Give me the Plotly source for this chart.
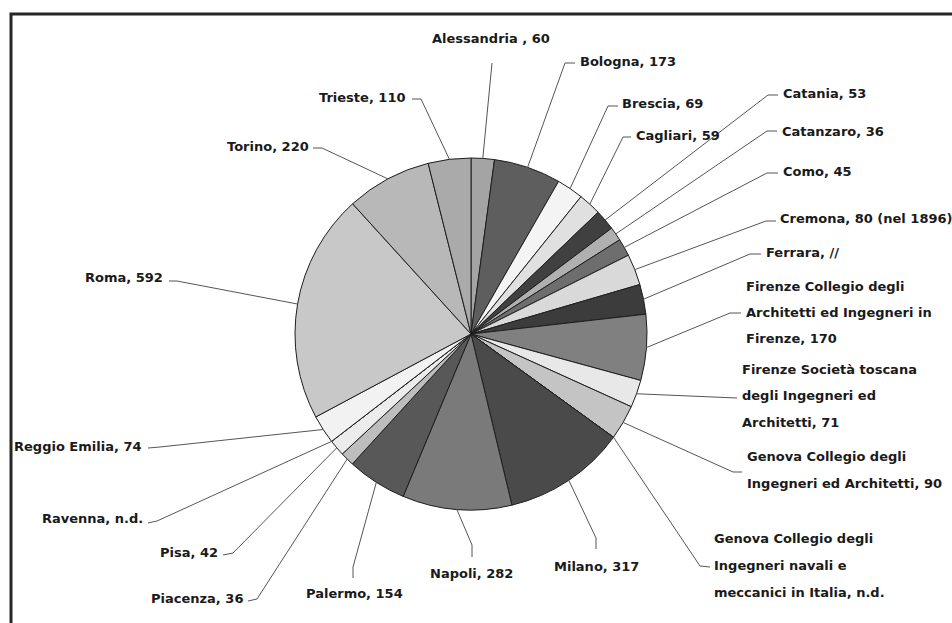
import math
import plotly.graph_objects as go

# ---------------- data ----------------
categories = [
    "Alessandria", "Bologna", "Brescia", "Cagliari", "Catania", "Catanzaro",
    "Como", "Cremona", "Ferrara", "Firenze Collegio", "Firenze Società",
    "Genova Collegio", "Genova navali", "Milano", "Napoli", "Palermo",
    "Piacenza", "Pisa", "Ravenna", "Reggio Emilia", "Roma", "Torino", "Trieste",
]
values = [60, 173, 69, 59, 53, 36, 45, 80, 77, 170, 71, 90, 0, 317, 282, 154,
          36, 42, 0, 74, 592, 220, 110]
label_texts = [
    ["Alessandria , 60"],
    ["Bologna, 173"],
    ["Brescia, 69"],
    ["Cagliari, 59"],
    ["Catania, 53"],
    ["Catanzaro, 36"],
    ["Como, 45"],
    ["Cremona, 80 (nel 1896)"],
    ["Ferrara, //"],
    ["Firenze Collegio degli", "Architetti ed Ingegneri in", "Firenze, 170"],
    ["Firenze Società toscana", "degli Ingegneri ed", "Architetti, 71"],
    ["Genova Collegio degli", "Ingegneri ed Architetti, 90"],
    ["Genova Collegio degli", "Ingegneri navali e", "meccanici in Italia, n.d."],
    ["Milano, 317"],
    ["Napoli, 282"],
    ["Palermo, 154"],
    ["Piacenza, 36"],
    ["Pisa, 42"],
    ["Ravenna, n.d."],
    ["Reggio Emilia, 74"],
    ["Roma, 592"],
    ["Torino, 220"],
    ["Trieste, 110"],
]

# ---------------- styles / layout ----------------
colors = ["#a4a4a4", "#5e5e5e", "#f4f4f4", "#e0e0e0", "#404040", "#b0b0b0",
          "#6e6e6e", "#d9d9d9", "#3c3c3c", "#808080", "#e8e8e8", "#c4c4c4",
          "#c4c4c4", "#4a4a4a", "#7a7a7a", "#585858", "#bdbdbd", "#ececec",
          "#ececec", "#f2f2f2", "#c8c8c8", "#b8b8b8", "#aaaaaa"]

W, H = 952, 623
CX, CY, R = 471, 334, 176

# label placement (pixels): text x, first-line y, anchor, line spacing, elbow, tail
label_pos = [
    (491, 38, "center", 0, (492, 63), None),
    (578, 61, "left", 0, (565, 63), (575, 63)),
    (620, 103, "left", 0, (608, 106), (618, 106)),
    (634, 135, "left", 0, (623, 137), (631, 137)),
    (781, 93, "left", 0, (768, 95), (778, 95)),
    (780, 131, "left", 0, (767, 131), (777, 131)),
    (781, 171, "left", 0, (767, 173), (778, 173)),
    (778, 218, "left", 0, (766, 221), (776, 221)),
    (764, 252, "left", 0, (750, 254), (761, 254)),
    (744, 286, "left", 26, (730, 313), (741, 313)),
    (740, 369, "left", 26.5, (737, 398), None),
    (745, 456, "left", 27, (733, 472), (742, 472)),
    (712, 538, "left", 27, (700, 566), (710, 567)),
    (596, 566, "center", 0, (596, 538), (596, 549)),
    (471, 573, "center", 0, (472, 545), (472, 557)),
    (354, 593, "center", 0, (353, 567), (353, 578)),
    (245, 598, "right", 0, (257, 599), (248, 601)),
    (220, 552, "right", 0, (233, 553), (223, 555)),
    (145, 518, "right", 0, (157, 521), (148, 523)),
    (143, 446, "right", 0, (160, 447), (148, 448)),
    (165, 277, "right", 0, (177, 281), (169, 281)),
    (311, 146, "right", 0, (322, 148), (313, 148)),
    (408, 97, "right", 0, (421, 99), (412, 99)),
]

fig = go.Figure()
fig.add_trace(go.Pie(
    labels=categories, values=values, sort=False, direction="clockwise",
    rotation=0, textinfo="none", hoverinfo="label+value",
    marker=dict(colors=colors, line=dict(color="#1e1e1e", width=1)),
    domain=dict(x=[(CX - R) / W, (CX + R) / W], y=[1 - (CY + R) / H, 1 - (CY - R) / H]),
    showlegend=False,
))

total = sum(values)
cum = 0
shapes = []
annotations = []
for val, lines, pos in zip(values, label_texts, label_pos):
    mid = (cum + val / 2) / total * 2 * math.pi
    cum += val
    px = CX + R * math.sin(mid)
    py = CY - R * math.cos(mid)
    tx, ty, anchor, sp, elbow, tail = pos
    path = f"M {px:.2f} {py:.2f} L {elbow[0]} {elbow[1]}"
    if tail is not None:
        path += f" L {tail[0]} {tail[1]}"
    shapes.append(dict(type="path", xref="x", yref="y", path=path,
                       line=dict(color="#555555", width=1), layer="above"))
    for i, ln in enumerate(lines):
        annotations.append(dict(
            x=tx, y=ty + i * sp, xref="x", yref="y", text=ln, showarrow=False,
            xanchor=anchor, yanchor="middle",
            font=dict(family="DejaVu Sans", size=13, color="#1a1a1a", weight="bold"),
        ))

# frame
shapes.append(dict(type="rect", xref="x", yref="y", x0=11, y0=14, x1=975, y1=650,
                   line=dict(color="#262626", width=3), layer="above"))

fig.update_layout(
    width=W, height=H, margin=dict(l=0, r=0, t=0, b=0),
    paper_bgcolor="white", plot_bgcolor="white",
    xaxis=dict(range=[0, W], visible=False, fixedrange=True, domain=[0, 1]),
    yaxis=dict(range=[H, 0], visible=False, fixedrange=True, domain=[0, 1]),
    shapes=shapes, annotations=annotations, showlegend=False,
)

fig.write_html("out.html")
